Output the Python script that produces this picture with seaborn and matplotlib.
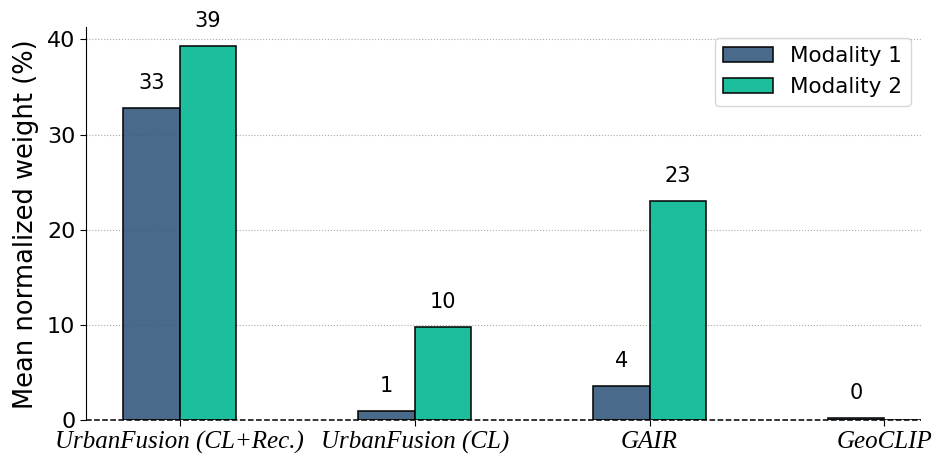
import matplotlib
matplotlib.use("Agg")
import matplotlib.pyplot as plt
import seaborn as sns
import pandas as pd

models = ["UrbanFusion (CL+Rec.)", "UrbanFusion (CL)", "GAIR", "GeoCLIP"]
modality1 = [32.8, 0.95, 3.6, 0.2]
modality2 = [39.3, 9.8, 23.0, 0.0]
series_names = ["Modality 1", "Modality 2"]
colors = ["#3a5d82", "#08b996"]

df = pd.DataFrame({
    "model": models * 2,
    "weight": modality1 + modality2,
    "modality": [series_names[0]] * len(models) + [series_names[1]] * len(models),
})

sns.set_style("white")
plt.rcParams["font.family"] = ["DejaVu Sans"]
for k in ["text.color", "axes.labelcolor", "xtick.color", "ytick.color", "axes.edgecolor"]:
    plt.rcParams[k] = "black"

fig, ax = plt.subplots(figsize=(9.43, 4.67), dpi=100)
sns.barplot(data=df, x="model", y="weight", hue="modality", palette=colors,
            width=0.48, edgecolor="black", linewidth=1.2, alpha=0.92, ax=ax,
            saturation=1)

for cont, vals in zip(ax.containers, [modality1, modality2]):
    for bar, v in zip(cont, vals):
        if v == 0:
            continue
        ax.text(bar.get_x() + bar.get_width() / 2, v + 1.6, f"{v:.0f}",
                ha="center", va="bottom", fontsize=15)

ax.axhline(0, color="black", linestyle="--", linewidth=1.1, clip_on=False, zorder=1.5)
ax.yaxis.grid(True, linestyle=":", color="#aaaaaa", linewidth=0.8)
ax.set_axisbelow(True)
sns.despine(ax=ax)
ax.spines["bottom"].set_visible(False)
ax.set_xlim(-0.4, 3.157)
ax.set_ylim(0, 41.3)
ax.set_yticks([0, 10, 20, 30, 40])
ax.tick_params(axis="y", labelsize=16, length=4, left=True)
ax.tick_params(axis="x", length=4, bottom=True)
for lab in ax.get_xticklabels():
    lab.set_fontfamily("Liberation Serif")
    lab.set_fontstyle("italic")
    lab.set_fontsize(18)
ax.set_xlabel("")
ax.set_ylabel("Mean normalized weight (%)", fontsize=18.5, labelpad=6)
ax.legend(title=None, fontsize=15.5, loc="upper right", frameon=True,
          handlelength=2.3)

fig.subplots_adjust(left=0.091, right=0.977, top=0.942, bottom=0.1)
fig.savefig("out.png", dpi=100)
